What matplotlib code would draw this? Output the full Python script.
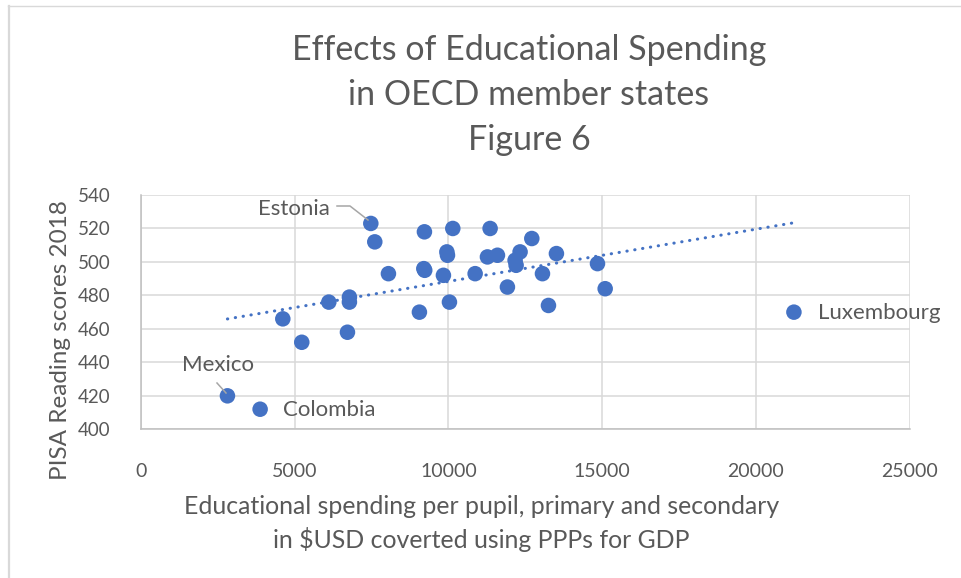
import matplotlib
matplotlib.use("Agg")
import matplotlib.pyplot as plt
from matplotlib.lines import Line2D
import numpy as np

# spending per pupil (USD PPP) and PISA reading score 2018
spend = [7476, 7605, 9220, 10143, 9950, 9970, 8049, 9200, 9230, 9838,
         10870, 6110, 6780, 6780, 10034, 9057, 4613, 6716, 5230, 2812,
         3875, 11357, 12713, 11270, 11596, 12332, 12170, 12203, 13514, 13060,
         11920, 13255, 14850, 15100, 21240]
score = [523, 512, 518, 520, 506, 504, 493, 496, 495, 492,
         493, 476, 479, 476, 476, 470, 466, 458, 452, 420,
         412, 520, 514, 503, 504, 506, 501, 498, 505, 493,
         485, 474, 499, 484, 470]

title = "Effects of Educational Spending\nin OECD member states\nFigure 6"
xlabel = "Educational spending per pupil, primary and secondary\nin $USD coverted using PPPs for GDP"
ylabel = "PISA Reading scores 2018"

blue = "#4472C4"
txt = "#595959"
grid = "#D9D9D9"

plt.rcParams['font.family'] = ['Lato', 'DejaVu Sans']

W, H = 961, 578
fig = plt.figure(figsize=(W / 100, H / 100), dpi=100)

def px(x0, y0, x1, y1):
    return [x0 / W, 1 - y1 / H, (x1 - x0) / W, (y1 - y0) / H]

ax = fig.add_axes(px(141, 195, 909.5, 429.3))

x = np.array(spend)
y = np.array(score)
ax.scatter(x, y, s=125, color=blue, edgecolors='none', zorder=3)

# linear trend line over data range
k, b = np.polyfit(x, y, 1)
xt = np.array([x.min(), x.max()])
ax.plot(xt, k * xt + b, color=blue, lw=2.2, linestyle=(0, (0.1, 2.5)),
        dash_capstyle='round', zorder=2)

ax.set_xlim(0, 25000)
ax.set_ylim(400, 540)
ax.set_xticks(np.arange(0, 25001, 5000))
ax.set_yticks(np.arange(400, 541, 20))
ax.grid(True, color=grid, lw=1.1)
ax.set_axisbelow(True)
for s in ['top', 'right']:
    ax.spines[s].set_visible(False)
for s in ['left', 'bottom']:
    ax.spines[s].set_color('#BFBFBF')
    ax.spines[s].set_linewidth(1.1)
ax.tick_params(length=0)
ax.tick_params(axis='y', labelsize=13.5, labelcolor=txt, pad=22)
ax.tick_params(axis='x', labelsize=14, labelcolor=txt, pad=24)

ax.set_ylabel(ylabel, fontsize=17.5, color=txt)
ax.yaxis.set_label_coords(-0.091, 0.38)
ax.set_xlabel(xlabel, fontsize=17.9, color=txt, linespacing=1.45)
ax.xaxis.set_label_coords(0.443, -0.28)
ax.xaxis.label.set_va('top')

fig.text(0.5505, 1 - 95 / H, title, ha='center', va='center', fontsize=24.5,
         color=txt, linespacing=1.5)

# point labels (figure pixel positions, from top)
notes = [("Estonia", 258, 209), ("Mexico", 182, 365),
         ("Colombia", 283, 410), ("Luxembourg", 818, 313)]
for name, tx, ty in notes:
    fig.text(tx / W, 1 - ty / H, name, fontsize=16, color=txt, va='center')

# leader lines
ldr = dict(color='#A6A6A6', lw=1.1, transform=None, zorder=4)
fig.add_artist(Line2D([337, 350, 368], [H - 206, H - 206, H - 220], **ldr))
fig.add_artist(Line2D([217, 226], [H - 383, H - 393], **ldr))

# chart border (cropped)
fig.add_artist(Line2D([9, 9], [0, H - 5.5], color=grid, lw=1.6, transform=None))
fig.add_artist(Line2D([8, W], [H - 5.5, H - 5.5], color=grid, lw=1.0, transform=None))

fig.savefig("out.png", dpi=100)
